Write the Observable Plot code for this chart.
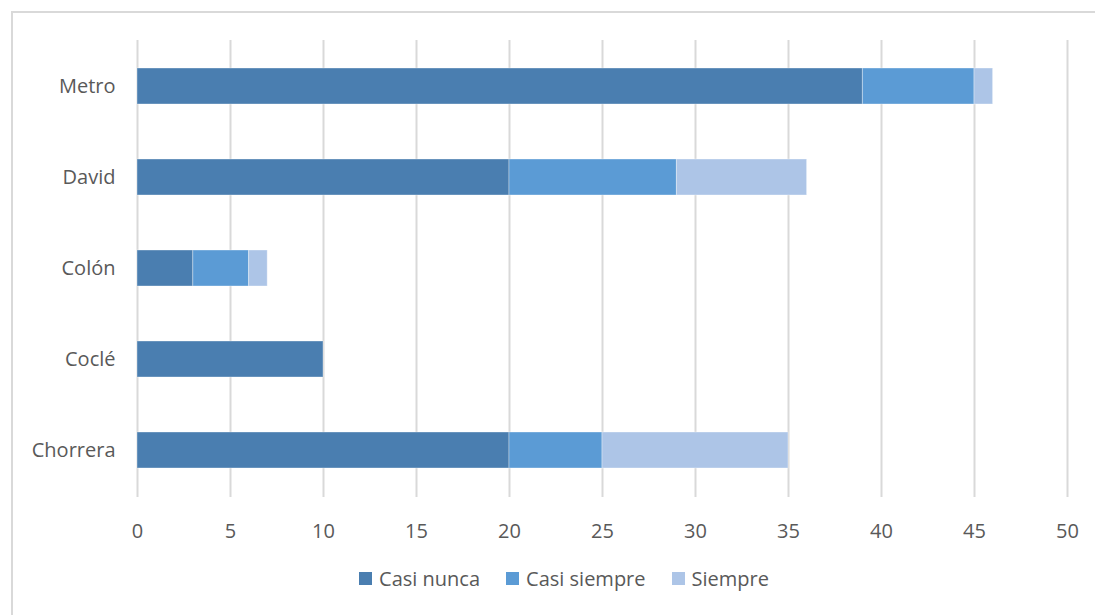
<!DOCTYPE html>
<html>
<head>
<meta charset="utf-8">
<script src="https://cdn.jsdelivr.net/npm/d3@7"></script>
<script src="https://cdn.jsdelivr.net/npm/@observablehq/plot@0.6"></script>
<style>
  html, body { margin: 0; padding: 0; background: #fff; }
  body { width: 1095px; height: 615px; position: relative; overflow: hidden; font-family: "Open Sans", sans-serif; }
  #frame { position: absolute; left: 11px; top: 11px; width: 1100px; height: 620px; border: 2px solid #d9d9d9; box-sizing: border-box; pointer-events: none; }
  #chart { position: absolute; left: 0; top: 0; }
  #legend { position: absolute; top: 565px; left: 0; width: 1128px; display: flex; justify-content: center; gap: 26px; font-size: 20px; color: #595959; }
  #legend .item { display: flex; align-items: center; gap: 7px; }
  #legend .sw { width: 13px; height: 13px; display: inline-block; }
</style>
</head>
<body>
<div id="chart"></div>
<div id="legend"></div>
<div id="frame"></div>
<script>
const categories = ["Metro", "David", "Colón", "Coclé", "Chorrera"];
const series = ["Casi nunca", "Casi siempre", "Siempre"];
const casiNunca = [39, 20, 3, 10, 20];
const casiSiempre = [6, 9, 3, 0, 5];
const siempre = [1, 7, 1, 0, 10];
const colors = ["#4a7eb0", "#5b9bd5", "#adc5e7"];
const xTicks = [0, 5, 10, 15, 20, 25, 30, 35, 40, 45, 50];

const valuesBySeries = [casiNunca, casiSiempre, siempre];
const data = [];
series.forEach((s, si) => {
  categories.forEach((c, ci) => {
    data.push({category: c, series: s, value: valuesBySeries[si][ci]});
  });
});

const plot = Plot.plot({
  width: 1095,
  height: 557,
  marginLeft: 137,
  marginRight: 28,
  marginTop: 40,
  marginBottom: 60,
  style: {fontFamily: "Open Sans, sans-serif", fontSize: "20px", color: "#595959", background: "transparent"},
  x: {domain: [0, 50], label: null},
  y: {domain: categories, paddingInner: 0.6, paddingOuter: 0.3, label: null},
  color: {domain: series, range: colors},
  marks: [
    Plot.ruleX(xTicks, {stroke: "#d9d9d9", strokeWidth: 2}),
    Plot.barX(data, Plot.stackX({
      x: "value", y: "category", fill: "series",
      order: series,
      stroke: "#ffffff", strokeOpacity: 0.35, strokeWidth: 1
    })),
    Plot.axisX({ticks: xTicks, tickSize: 0, tickPadding: 26, fontSize: 20, fill: "#595959", label: null}),
    Plot.axisY({tickSize: 0, tickPadding: 22, fontSize: 20, fill: "#595959", label: null})
  ]
});
document.getElementById("chart").appendChild(plot);

const legend = document.getElementById("legend");
series.forEach((s, i) => {
  const item = document.createElement("div");
  item.className = "item";
  const sw = document.createElement("span");
  sw.className = "sw";
  sw.style.background = colors[i];
  const t = document.createElement("span");
  t.textContent = s;
  item.appendChild(sw);
  item.appendChild(t);
  legend.appendChild(item);
});
</script>
</body>
</html>
